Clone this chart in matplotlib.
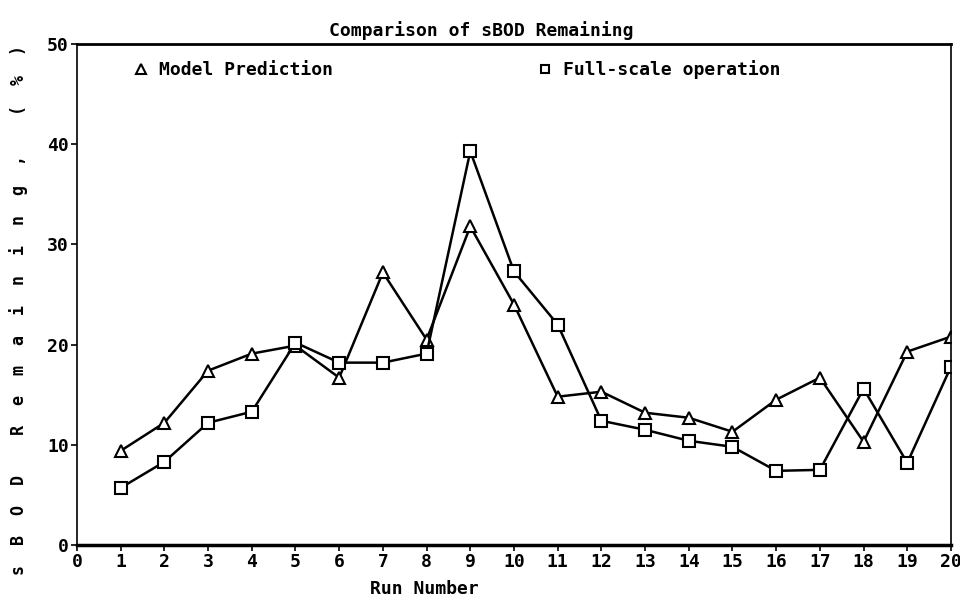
import matplotlib.pyplot as plt

# Run numbers and sBOD remaining (%)
runs = list(range(1, 21))
model_pred = [9.4, 12.2, 17.4, 19.1, 19.9, 16.7, 27.2, 20.5, 31.8, 24.0,
              14.8, 15.3, 13.2, 12.7, 11.3, 14.5, 16.7, 10.3, 19.3, 20.8]
full_scale = [5.7, 8.3, 12.2, 13.3, 20.2, 18.2, 18.2, 19.1, 39.3, 27.3,
              22.0, 12.4, 11.5, 10.4, 9.8, 7.4, 7.5, 15.6, 8.2, 17.8]
x_ticks = list(range(0, 21))
y_ticks = [0, 10, 20, 30, 40, 50]

plt.rcParams['font.family'] = ['DejaVu Sans Mono']
plt.rcParams['font.weight'] = 'bold'

fig = plt.figure(figsize=(9.6, 6.03), dpi=100)
ax = fig.add_axes([0.0802, 0.0962, 0.9104, 0.8308])

ax.plot(runs, model_pred, color='black', lw=1.8, marker='^', ms=9,
        mfc='white', mec='black', mew=1.5, label='Model Prediction')
ax.plot(runs, full_scale, color='black', lw=1.8, marker='s', ms=8,
        mfc='white', mec='black', mew=1.5, label='Full-scale operation')

ax.set_xlim(0, 20)
ax.set_ylim(0, 50)
ax.set_xticks(x_ticks)
ax.set_yticks(y_ticks)
ax.tick_params(axis='both', labelsize=13, width=1.2, length=4, direction='out')
ax.tick_params(axis='x', pad=2)
ax.tick_params(axis='y', pad=2)

for s in ['top', 'right', 'left']:
    ax.spines[s].set_linewidth(1.2)
ax.spines['bottom'].set_linewidth(2.5)
ax.spines['top'].set_linewidth(2.0)

ax.set_title('Comparison of sBOD Remaining', fontsize=13, fontweight='bold',
             x=0.463, pad=6)
ax.set_xlabel('Run Number', fontsize=13, fontweight='bold')
ax.xaxis.set_label_coords(0.398, -0.07)
ax.set_ylabel('s  B  O  D    R  e  m  a  i  n  i  n  g  ,    (  %  )',
              fontsize=12, fontweight='bold')
ax.yaxis.set_label_coords(-0.056, 0.47)

ax.legend(loc='upper left', bbox_to_anchor=(0.055, 1.0), ncol=2,
          frameon=False, fontsize=13, handlelength=0, handletextpad=1.0,
          columnspacing=11.7, markerscale=0.8)

fig.savefig('out.png', dpi=100)
